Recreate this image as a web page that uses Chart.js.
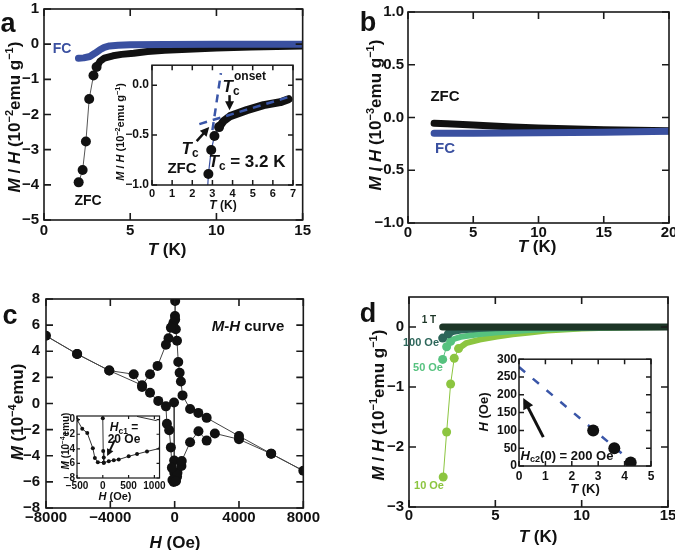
<!DOCTYPE html>
<html>
<head>
<meta charset="utf-8">
<script src="https://cdn.jsdelivr.net/npm/chart.js@4/dist/chart.umd.min.js"></script>
<style>
  body { margin: 0; width: 675px; height: 550px; overflow: hidden; background: #fff; position: relative;
         font-family: 'Liberation Sans', Arial, sans-serif; font-weight: bold; color: #111; }
  #charts, #labels { position: absolute; left: 0; top: 0; width: 675px; height: 550px; }
  canvas { position: absolute; }
  .t { position: absolute; white-space: nowrap; transform: translate(-50%, -50%); line-height: 1; }
  .r { transform: translate(-50%, -50%) rotate(-90deg); }
  sup { font-size: 0.65em; vertical-align: 0.55em; line-height: 0; }
  sub { font-size: 0.7em; vertical-align: -0.3em; line-height: 0; }
  .blue { color: #3a50a0; }
</style>
</head>
<body>
<div id="charts"></div>
<div id="labels">
  <!-- panel letters -->
  <div class="t" style="left:8px;top:23px;font-size:27px">a</div>
  <div class="t" style="left:368px;top:22px;font-size:27px">b</div>
  <div class="t" style="left:10px;top:315px;font-size:27px">c</div>
  <div class="t" style="left:368px;top:313px;font-size:27px">d</div>

  <!-- a -->
  <div class="t r" style="left:14px;top:117px;font-size:17px"><i>M</i> / <i>H</i> (10<sup>−2</sup>emu g<sup>−1</sup>)</div>
  <div class="t" style="left:167px;top:249px;font-size:17px"><i>T</i> (K)</div>
  <div class="t blue" style="left:62px;top:48px;font-size:14px">FC</div>
  <div class="t" style="left:88px;top:200px;font-size:14px">ZFC</div>
  <div class="t r" style="left:120px;top:132px;font-size:11px"><i>M</i> / <i>H</i> (10<sup>−2</sup>emu g<sup>−1</sup>)</div>
  <div class="t" style="left:223px;top:205px;font-size:12px"><i>T</i> (K)</div>
  <div class="t" style="left:231px;top:86px;font-size:17px"><i>T</i><sub>c</sub></div>
  <div class="t" style="left:250px;top:76px;font-size:12px">onset</div>
  <div class="t" style="left:190px;top:148px;font-size:17px"><i>T</i><sub>c</sub></div>
  <div class="t" style="left:182px;top:167px;font-size:15px">ZFC</div>
  <div class="t" style="left:247px;top:161px;font-size:17px"><i>T</i><sub>c</sub> = 3.2 K</div>

  <!-- b -->
  <div class="t r" style="left:375px;top:115px;font-size:17px"><i>M</i> / <i>H</i> (10<sup>−3</sup>emu g<sup>−1</sup>)</div>
  <div class="t" style="left:537px;top:246px;font-size:17px"><i>T</i> (K)</div>
  <div class="t" style="left:445px;top:95px;font-size:15px">ZFC</div>
  <div class="t blue" style="left:445px;top:147px;font-size:15px">FC</div>

  <!-- c -->
  <div class="t r" style="left:17px;top:412px;font-size:17px"><i>M</i> (10<sup>−4</sup>emu)</div>
  <div class="t" style="left:175px;top:542px;font-size:17px"><i>H</i> (Oe)</div>
  <div class="t" style="left:248px;top:325px;font-size:15px"><i>M</i>-<i>H</i> curve</div>
  <div class="t r" style="left:66px;top:441px;font-size:10px"><i>M</i> (10<sup>−4</sup>emu)</div>
  <div class="t" style="left:115px;top:496px;font-size:11px"><i>H</i> (Oe)</div>
  <div class="t" style="left:124px;top:427px;font-size:12px"><i>H</i><sub>c1</sub> =</div>
  <div class="t" style="left:124px;top:439px;font-size:12px">20 Oe</div>

  <!-- d -->
  <div class="t r" style="left:378px;top:405px;font-size:17px"><i>M</i> / <i>H</i> (10<sup>−1</sup>emu g<sup>−1</sup>)</div>
  <div class="t" style="left:538px;top:536px;font-size:17px"><i>T</i> (K)</div>
  <div class="t" style="left:429px;top:320px;font-size:10px;color:#1c3526">1 T</div>
  <div class="t" style="left:421px;top:342px;font-size:11px;color:#2d665a">100 Oe</div>
  <div class="t" style="left:428px;top:367px;font-size:11px;color:#56c27f">50 Oe</div>
  <div class="t" style="left:429px;top:485px;font-size:11px;color:#8cc540">10 Oe</div>
  <div class="t r" style="left:483px;top:412px;font-size:13px"><i>H</i> (Oe)</div>
  <div class="t" style="left:585px;top:488px;font-size:13px"><i>T</i> (K)</div>
  <div class="t" style="left:567px;top:455px;font-size:13px"><i>H</i><sub>c2</sub>(0) = 200 Oe</div>
</div>

<script>
// ---- panel a: ZFC / FC, main ----
const aZfcDotT = [2.01, 2.24, 2.43, 2.62, 2.87, 3.05];
const aZfcDotV = [-3.93, -3.58, -2.77, -1.56, -0.89, -0.65];
const aZfcBandT = [3.05, 3.24, 3.5, 4.0, 4.5, 5.2, 6, 7, 8, 9, 10, 12, 15];
const aZfcBandV = [-0.65, -0.49, -0.40, -0.33, -0.29, -0.26, -0.21, -0.17, -0.15, -0.13, -0.11, -0.08, -0.05];
const aFcT = [2.0, 2.3, 2.66, 2.95, 3.24, 3.5, 3.8, 4.3, 5, 7, 10, 15];
const aFcV = [-0.40, -0.39, -0.35, -0.26, -0.16, -0.09, -0.05, -0.03, -0.02, -0.01, 0, 0];
const aXTicks = [0, 5, 10, 15];
const aYTicks = [-5, -4, -3, -2, -1, 0, 1];

// ---- panel a: inset ----
const aiDotT = [2.62, 2.80, 2.94, 3.10, 3.33];
const aiDotV = [-1.56, -0.89, -0.65, -0.51, -0.42];
const aiBandT = [3.33, 3.55, 3.88, 4.71, 5.54, 6.37, 6.78];
const aiBandV = [-0.42, -0.36, -0.31, -0.25, -0.20, -0.17, -0.14];
const aiSteepT = [3.0, 3.42];
const aiSteepV = [-0.45, 0.12];
const aiFlatT = [2.35, 7.0];
const aiFlatV = [-0.39, -0.105];
const aiXTicks = [0, 1, 2, 3, 4, 5, 6, 7];
const aiYTicks = [-1.0, -0.5, 0.0];

// ---- panel b ----
const bZfcT = [2, 3, 5, 8, 10, 15, 20];
const bZfcV = [-0.055, -0.06, -0.07, -0.09, -0.10, -0.115, -0.125];
const bFcT = [2, 5, 10, 15, 20];
const bFcV = [-0.15, -0.15, -0.145, -0.14, -0.13];
const bXTicks = [0, 5, 10, 15, 20];
const bYTicks = [-1.0, -0.5, 0.0, 0.5, 1.0];

// ---- panel c: M-H loop (Oe, 1e-4 emu) ----
const cH = [-40, -30, -25, -15, 72, 150, 175, 420, 440, 960, 1480, 1990, 2500, 4000, 6000, 8000,
            6000, 4000, 1990, 1470, 960, 490, 390, 310, 225, 145, 72, 31, 20, 31, -74, -136, -235, -383, -544,
            -1063, -1532, -2026, -4066, -6066, -8000, -6066, -4066, -2545, -2026, -1532, -1020, -544,
            -482, -340, -235, -173, -136, -60, 72];
const cM = [0.07, -4.36, -5.3, -5.9, -5.9, -5.6, -5.3, -4.78, -4.4, -2.97, -2.12, -2.84, -2.29, -2.74, -3.85, -5.15,
            -3.84, -2.49, -1.1, -0.72, -0.42, 0.62, 1.69, 2.36, 3.18, 4.8, 5.68, 7.85, 6.7, 6.43, 6.18, 5.93, 5.8, 5.0, 4.5,
            2.88, 2.24, 1.4, 2.52, 3.79, 5.18, 3.79, 2.52, 2.24, 1.27, 0.82, 0.2, -0.22,
            -1.55, -2.04, -3.36, -4.91, -5.85, -6.0, -5.95];
const cXTicks = [-8000, -4000, 0, 4000, 8000];
const cYTicks = [-8, -6, -4, -2, 0, 2, 4, 6, 8];

// ---- panel c: inset ----
const ciH = [-500, -398, -301, -193, -154, -96, 19, 116, 213, 309, 502, 664, 857, 1116];
const ciM = [0, -1.25, -1.83, -3.92, -5.25, -5.83, -5.9, -5.7, -5.56, -5.47, -5.03, -4.72, -4.36, -3.92];
const ciVirginH = [0, 8, 19, 19];
const ciVirginM = [0.2, -4.3, -5.2, -5.9];
const ciTopH = [664, 1037];
const ciTopM = [0.44, -0.13];
const ciXTicks = [-500, 0, 500, 1000];
const ciYTicks = [-8, -6, -4, -2, 0];

// ---- panel d: M/H at several fields ----
const d1tT = [1.95, 5, 10, 15];
const d1tV = [0, 0, 0, 0];
const d100DotT = [1.95, 2.28];
const d100DotV = [-0.185, -0.114];
const d100BandT = [2.28, 2.6, 3, 4, 5, 7, 15];
const d100BandV = [-0.114, -0.08, -0.06, -0.035, -0.02, -0.008, 0];
const d50DotT = [1.95, 2.18, 2.41];
const d50DotV = [-0.54, -0.33, -0.24];
const d50BandT = [2.41, 2.6, 3, 4, 5, 6, 7, 8, 10, 12, 15];
const d50BandV = [-0.24, -0.2, -0.165, -0.12, -0.09, -0.07, -0.05, -0.035, -0.018, -0.008, 0];
const d10DotT = [1.98, 2.18, 2.41, 2.62, 2.87];
const d10DotV = [-2.5, -1.75, -0.95, -0.52, -0.36];
const d10BandT = [2.87, 3.3, 4.1, 5.1, 6, 7, 8, 9, 10, 11, 13, 15];
const d10BandV = [-0.36, -0.27, -0.21, -0.16, -0.12, -0.09, -0.06, -0.04, -0.025, -0.015, -0.005, 0];
const dXTicks = [0, 5, 10, 15];
const dYTicks = [-3, -2, -1, 0];

// ---- panel d: inset Hc2(T) ----
const diT = [2.81, 3.61, 4.23];
const diH = [100, 50, 10];
const diFitT = [0, 4.3];
const diFitH = [278, 10];
const diXTicks = [0, 1, 2, 3, 4, 5];
const diYTicks = [0, 50, 100, 150, 200, 250, 300];

const FONT = "'Liberation Sans', Arial, sans-serif";
const BLUE = '#3a50a0';
const DASH = '#3a56a8';
const C1T = '#1c3526', C100 = '#2d665a', C50 = '#56c27f', C10 = '#8cc540';
const minus = s => String(s).replace('-', '\u2212');

// frame with inward ticks on all four sides, optional white plot background
const framePlugin = {
  id: 'frame',
  beforeDatasetsDraw(chart, args, opts) {
    if (!opts.bg) return;
    const a = chart.chartArea;
    chart.ctx.save();
    chart.ctx.fillStyle = '#fff';
    chart.ctx.fillRect(a.left, a.top, a.right - a.left, a.bottom - a.top);
    chart.ctx.restore();
  },
  afterDraw(chart, args, opts) {
    const { ctx, chartArea: a, scales: { x, y } } = chart;
    const len = opts.len || 7;
    ctx.save();
    ctx.strokeStyle = '#1a1a1a';
    ctx.lineWidth = opts.width || 1.6;
    ctx.strokeRect(a.left, a.top, a.right - a.left, a.bottom - a.top);
    ctx.beginPath();
    x.ticks.forEach(t => {
      const p = x.getPixelForValue(t.value);
      ctx.moveTo(p, a.bottom); ctx.lineTo(p, a.bottom - len);
      ctx.moveTo(p, a.top); ctx.lineTo(p, a.top + len);
    });
    y.ticks.forEach(t => {
      const p = y.getPixelForValue(t.value);
      ctx.moveTo(a.left, p); ctx.lineTo(a.left + len, p);
      ctx.moveTo(a.right, p); ctx.lineTo(a.right - len, p);
    });
    ctx.stroke();
    ctx.restore();
  }
};

// arrows given in data units
const arrowPlugin = {
  id: 'arrows',
  afterDatasetsDraw(chart, args, opts) {
    const { ctx, scales: { x, y } } = chart;
    (opts.list || []).forEach(([x1, y1, x2, y2]) => {
      const ax = x.getPixelForValue(x1), ay = y.getPixelForValue(y1);
      const bx = x.getPixelForValue(x2), by = y.getPixelForValue(y2);
      const ang = Math.atan2(by - ay, bx - ax);
      const hl = opts.head || 9, hw = hl * 0.5;
      ctx.save();
      ctx.strokeStyle = '#111'; ctx.fillStyle = '#111';
      ctx.lineWidth = opts.width || 2.5;
      ctx.beginPath();
      ctx.moveTo(ax, ay);
      ctx.lineTo(bx - Math.cos(ang) * hl * 0.8, by - Math.sin(ang) * hl * 0.8);
      ctx.stroke();
      ctx.beginPath();
      ctx.moveTo(bx, by);
      ctx.lineTo(bx - Math.cos(ang) * hl + Math.sin(ang) * hw, by - Math.sin(ang) * hl - Math.cos(ang) * hw);
      ctx.lineTo(bx - Math.cos(ang) * hl - Math.sin(ang) * hw, by - Math.sin(ang) * hl + Math.cos(ang) * hw);
      ctx.closePath();
      ctx.fill();
      ctx.restore();
    });
  }
};

function series(xs, ys, o) {
  return Object.assign({
    data: xs.map((v, i) => ({ x: v, y: ys[i] })),
    showLine: true, pointRadius: 0, borderWidth: 1, borderColor: '#111',
    pointBackgroundColor: '#111', pointBorderWidth: 0,
    borderCapStyle: 'round', borderJoinStyle: 'round'
  }, o);
}

function axis(s, size, dir) {
  return {
    type: 'linear', min: s.min, max: s.max,
    afterFit(scale) { if (dir === 'x') scale.height = size; else scale.width = size; },
    afterBuildTicks(scale) { scale.ticks = s.vals.map(v => ({ value: v })); },
    grid: { display: false, drawTicks: false },
    border: { display: false },
    ticks: {
      autoSkip: false, maxRotation: 0, padding: s.pad, color: '#111',
      font: { family: FONT, size: s.font, weight: 'bold' },
      callback: v => minus(s.dec != null ? v.toFixed(s.dec) : v)
    }
  };
}

// area = [left, top, right, bottom] of the plot box; pad = [l, t, r, b]
function panel(area, yw, xh, pad, xs, ys, datasets, extra) {
  const [L, T, R, B] = area;
  const c = document.createElement('canvas');
  c.width = Math.round(R - L + yw + pad[0] + pad[2]);
  c.height = Math.round(B - T + xh + pad[1] + pad[3]);
  c.style.left = (L - yw - pad[0]) + 'px';
  c.style.top = (T - pad[1]) + 'px';
  document.getElementById('charts').appendChild(c);
  return new Chart(c, {
    type: 'scatter',
    data: { datasets },
    options: {
      responsive: false, animation: false, events: [],
      layout: { autoPadding: false, padding: { left: pad[0], top: pad[1], right: pad[2], bottom: pad[3] } },
      plugins: {
        legend: { display: false }, tooltip: { enabled: false },
        frame: extra.frame || {},
        arrows: { list: extra.arrows || [], width: extra.arrowWidth, head: extra.head }
      },
      scales: { x: axis(xs, xh, 'x'), y: axis(ys, yw, 'y') }
    },
    plugins: [framePlugin, arrowPlugin]
  });
}

// first dataset in each list is drawn on top

// a main
panel([44, 5, 303, 220], 44, 30, [0, 10, 10, 0],
  { min: 0, max: 15, vals: aXTicks, pad: 2, font: 15 },
  { min: -5, max: 1, vals: aYTicks, pad: 5, font: 15 },
  [
    series(aZfcDotT, aZfcDotV, { pointRadius: 5, borderColor: '#555' }),
    series(aFcT, aFcV, { borderWidth: 7, borderColor: BLUE }),
    series(aZfcBandT, aZfcBandV, { borderWidth: 7, borderColor: '#111' })
  ], {});

// a inset
panel([152, 63, 293, 185], 40, 24, [0, 8, 6, 0],
  { min: 0, max: 7, vals: aiXTicks, pad: 2, font: 11 },
  { min: -1, max: 0.2, vals: aiYTicks, pad: 3, font: 12, dec: 1 },
  [
    series(aiSteepT, aiSteepV, { borderWidth: 2.5, borderColor: DASH, borderDash: [8, 6], borderCapStyle: 'butt' }),
    series(aiFlatT, aiFlatV, { borderWidth: 2.5, borderColor: DASH, borderDash: [8, 6], borderCapStyle: 'butt' }),
    series(aiDotT, aiDotV, { pointRadius: 5, borderColor: BLUE, borderWidth: 1.2 }),
    series(aiBandT, aiBandV, { borderWidth: 8, borderColor: '#111' })
  ], { frame: { bg: true, len: 5, width: 1.5 }, arrows: [[2.22, -0.56, 2.84, -0.42], [3.85, -0.10, 3.85, -0.25]] });

// b
panel([408, 9, 669, 223], 50, 30, [0, 10, 10, 0],
  { min: 0, max: 20, vals: bXTicks, pad: 1, font: 15 },
  { min: -1, max: 1, vals: bYTicks, pad: 4, font: 15, dec: 1 },
  [
    series(bFcT, bFcV, { borderWidth: 7, borderColor: BLUE }),
    series(bZfcT, bZfcV, { borderWidth: 7, borderColor: '#111' })
  ], {});

// c main
panel([46, 294, 305, 508], 46, 30, [0, 10, 16, 0],
  { min: -8000, max: 8000, vals: cXTicks, pad: 1, font: 15 },
  { min: -8, max: 8, vals: cYTicks, pad: 6, font: 15 },
  [
    series(cH, cM, { pointRadius: 5, borderColor: '#444', borderWidth: 1 })
  ], {});

// c inset
panel([77, 413.5, 159.7, 477.3], 26, 16, [0, 6, 8, 0],
  { min: -500, max: 1100, vals: ciXTicks, pad: 2, font: 10 },
  { min: -8, max: 0.5, vals: ciYTicks, pad: 2, font: 10 },
  [
    series(ciVirginH, ciVirginM, { pointRadius: 2, borderColor: '#333' }),
    series(ciH, ciM, { pointRadius: 2, borderColor: '#333' }),
    series(ciTopH, ciTopM, { borderColor: '#333' })
  ], { frame: { bg: true, len: 3, width: 1.2 }, arrows: [[232, -2.8, 85, -5.0]], arrowWidth: 2, head: 7 });

// d main
panel([409, 293, 668, 507], 50, 30, [0, 10, 10, 0],
  { min: 0, max: 15, vals: dXTicks, pad: 0, font: 15 },
  { min: -3, max: 0.5, vals: dYTicks, pad: 5, font: 15 },
  [
    series(d1tT, d1tV, { borderWidth: 7, borderColor: C1T }),
    series(d100DotT, d100DotV, { pointRadius: 4.5, borderColor: C100, pointBackgroundColor: C100 }),
    series(d100BandT, d100BandV, { borderWidth: 6, borderColor: C100 }),
    series(d50DotT, d50DotV, { pointRadius: 4.5, borderColor: C50, pointBackgroundColor: C50 }),
    series(d50BandT, d50BandV, { borderWidth: 6, borderColor: C50 }),
    series(d10DotT, d10DotV, { pointRadius: 4.5, borderColor: C10, pointBackgroundColor: C10 }),
    series(d10BandT, d10BandV, { borderWidth: 6, borderColor: C10 })
  ], {});

// d inset
panel([519, 358, 651, 466], 34, 20, [0, 8, 8, 0],
  { min: 0, max: 5, vals: diXTicks, pad: 3, font: 12 },
  { min: 0, max: 300, vals: diYTicks, pad: 2, font: 12 },
  [
    series(diT, diH, { showLine: false, pointRadius: 6 }),
    series(diFitT, diFitH, { borderWidth: 2.5, borderColor: DASH, borderDash: [8, 10], borderCapStyle: 'butt' })
  ], { frame: { bg: true, len: 5, width: 1.5 }, arrows: [[0.92, 81, 0.16, 191]], arrowWidth: 3, head: 11 });
</script>
</body>
</html>
